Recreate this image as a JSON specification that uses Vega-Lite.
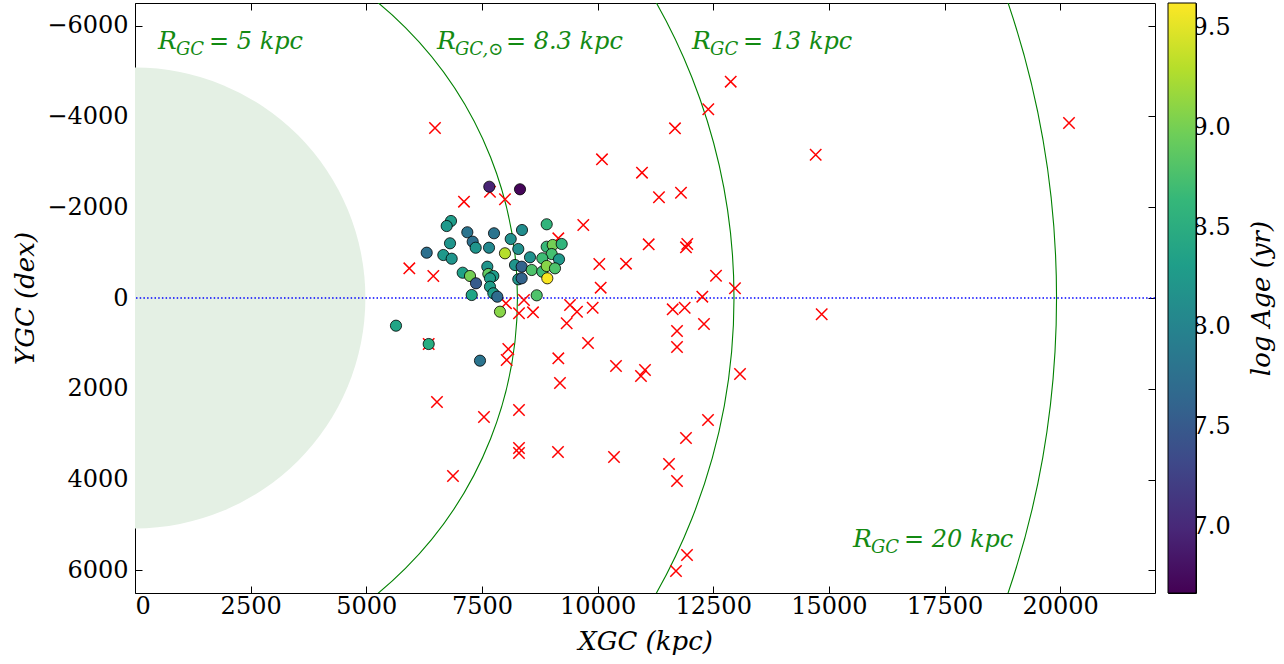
{
  "$schema": "https://vega.github.io/schema/vega-lite/v6.json",
  "padding": {"left": 12, "top": 2, "right": 5, "bottom": 5},
  "background": "white",
  "datasets": {
    "clusters": [
      {"x": 7659, "y": -2452, "age": 6.95}, {"x": 8323, "y": -2395, "age": 6.7},
      {"x": 6831, "y": -1697, "age": 8.3}, {"x": 6738, "y": -1586, "age": 8.25},
      {"x": 8900, "y": -1624, "age": 8.6}, {"x": 7184, "y": -1448, "age": 7.8},
      {"x": 7761, "y": -1426, "age": 7.8}, {"x": 8366, "y": -1498, "age": 8.1},
      {"x": 7300, "y": -1241, "age": 7.75}, {"x": 6810, "y": -1205, "age": 8.2},
      {"x": 8122, "y": -1300, "age": 8.15}, {"x": 7365, "y": -1108, "age": 8.2},
      {"x": 7653, "y": -1108, "age": 8.05}, {"x": 6306, "y": -998, "age": 7.75},
      {"x": 6665, "y": -947, "age": 8.25}, {"x": 6846, "y": -866, "age": 8.2},
      {"x": 7998, "y": -985, "age": 9.3}, {"x": 8286, "y": -1080, "age": 8.15},
      {"x": 8539, "y": -897, "age": 8.15}, {"x": 8900, "y": -1130, "age": 8.65},
      {"x": 9030, "y": -1168, "age": 9.0}, {"x": 9224, "y": -1190, "age": 8.6},
      {"x": 9008, "y": -969, "age": 8.75}, {"x": 8805, "y": -875, "age": 8.7},
      {"x": 9166, "y": -853, "age": 8.25}, {"x": 8215, "y": -727, "age": 8.2},
      {"x": 8359, "y": -690, "age": 7.6}, {"x": 8576, "y": -617, "age": 8.8},
      {"x": 8805, "y": -580, "age": 8.7}, {"x": 8900, "y": -705, "age": 9.1},
      {"x": 9079, "y": -654, "age": 8.8}, {"x": 8913, "y": -434, "age": 9.6},
      {"x": 7084, "y": -557, "age": 8.35}, {"x": 7242, "y": -485, "age": 9.0},
      {"x": 7372, "y": -324, "age": 7.5}, {"x": 7616, "y": -690, "age": 8.2},
      {"x": 7638, "y": -529, "age": 8.9}, {"x": 7746, "y": -485, "age": 8.3},
      {"x": 7674, "y": -434, "age": 8.3}, {"x": 8286, "y": -412, "age": 8.2},
      {"x": 8359, "y": -434, "age": 7.6}, {"x": 7674, "y": -249, "age": 8.3},
      {"x": 7279, "y": -66, "age": 8.4}, {"x": 7746, "y": -104, "age": 8.3},
      {"x": 7832, "y": -29, "age": 7.7}, {"x": 8684, "y": -59, "age": 8.8},
      {"x": 7890, "y": 302, "age": 9.1}, {"x": 5642, "y": 610, "age": 8.4},
      {"x": 6349, "y": 1014, "age": 8.5}, {"x": 7458, "y": 1381, "age": 7.8}
    ],
    "crosses": [
      {"x": 6485, "y": -3746}, {"x": 7112, "y": -2122}, {"x": 7674, "y": -2342}, {"x": 7998, "y": -2175},
      {"x": 9691, "y": -1608}, {"x": 10095, "y": -3056}, {"x": 10960, "y": -2761}, {"x": 11327, "y": -2219},
      {"x": 11803, "y": -2320}, {"x": 11673, "y": -3739}, {"x": 12393, "y": -4158}, {"x": 12878, "y": -4766},
      {"x": 14715, "y": -3157}, {"x": 20191, "y": -3856}, {"x": 9151, "y": -1315}, {"x": 11105, "y": -1183},
      {"x": 11939, "y": -1190}, {"x": 11911, "y": -1117}, {"x": 10037, "y": -749}, {"x": 10614, "y": -756},
      {"x": 10067, "y": -227}, {"x": 12560, "y": -491}, {"x": 12970, "y": -214}, {"x": 12264, "y": -29},
      {"x": 5930, "y": -654}, {"x": 6449, "y": -485}, {"x": 8020, "y": 117}, {"x": 8301, "y": 337},
      {"x": 8409, "y": 44}, {"x": 8604, "y": 315}, {"x": 9404, "y": 154}, {"x": 9332, "y": 557},
      {"x": 9555, "y": 302}, {"x": 9894, "y": 214}, {"x": 11624, "y": 249}, {"x": 11883, "y": 214},
      {"x": 14845, "y": 359}, {"x": 8070, "y": 1124}, {"x": 8035, "y": 1366}, {"x": 9151, "y": 1329},
      {"x": 6349, "y": 1014}, {"x": 9793, "y": 992}, {"x": 9187, "y": 1873}, {"x": 10398, "y": 1498},
      {"x": 10938, "y": 1719}, {"x": 11025, "y": 1586}, {"x": 6528, "y": 2292}, {"x": 7544, "y": 2622},
      {"x": 8301, "y": 2468}, {"x": 8301, "y": 3305}, {"x": 8301, "y": 3415}, {"x": 9144, "y": 3393},
      {"x": 6874, "y": 3922}, {"x": 10355, "y": 3503}, {"x": 11544, "y": 3658}, {"x": 11695, "y": 6015},
      {"x": 11933, "y": 5663}, {"x": 11717, "y": 4032}, {"x": 11911, "y": 3085}, {"x": 12387, "y": 2688},
      {"x": 13079, "y": 1675}, {"x": 12300, "y": 573}, {"x": 11717, "y": 727}, {"x": 11717, "y": 1080}
    ],
    "rings": [
      {"r": 8300}, {"r": 13000}, {"r": 20000}
    ],
    "labels": [
      {"x": 497, "y": -5487, "sub": "GC", "rest": "= 5 kpc", "kind": "plain"},
      {"x": 6528, "y": -5487, "sub": "GC,⊙", "rest": "= 8.3 kpc", "kind": "sun"},
      {"x": 12041, "y": -5487, "sub": "GC", "rest": "= 13 kpc", "kind": "plain"},
      {"x": 15521, "y": 5487, "sub": "GC", "rest": "= 20 kpc", "kind": "plain"}
    ],
    "cbar": [{"lo": 6.665, "hi": 9.625}]
  },
  "hconcat": [
    {
      "width": 1020,
      "height": 590,
      "resolve": {"axis": {"x": "independent", "y": "independent"}},
      "layer": [
        {
          "data": {"values": [{"r": 5000}]},
          "mark": {"type": "arc", "theta": 0, "theta2": 6.2832, "fill": "#e4f0e4", "clip": true},
          "encoding": {
            "x": {"datum": 0, "type": "quantitative", "scale": {"domain": [0, 22050], "nice": false, "zero": false},
              "axis": {"orient": "bottom", "values": [0, 2500, 5000, 7500, 10000, 12500, 15000, 17500, 20000], "format": "d", "title": "XGC (kpc)", "labelPadding": 8, "titlePadding": 10}},
            "y": {"datum": 0, "type": "quantitative", "scale": {"domain": [-6500, 6500], "reverse": true, "nice": false, "zero": false},
              "axis": {"orient": "left", "values": [-6000, -4000, -2000, 0, 2000, 4000, 6000], "format": "d", "title": "YGC (dex)", "labelPadding": 14, "titlePadding": 8}},
            "radius": {"field": "r", "type": "quantitative", "stack": null, "scale": {"type": "linear", "domain": [0, 22050], "range": [0, 1016], "zero": true}}
          }
        },
        {
          "data": {"name": "rings"},
          "mark": {"type": "arc", "theta": 0, "theta2": 6.2832, "filled": false, "fill": null, "stroke": "#008000", "strokeWidth": 1.1, "clip": true},
          "encoding": {
            "x": {"datum": 0, "type": "quantitative",
              "axis": {"orient": "top", "values": [0, 2500, 5000, 7500, 10000, 12500, 15000, 17500, 20000], "labels": false, "title": null}},
            "y": {"datum": 0, "type": "quantitative",
              "axis": {"orient": "right", "values": [-6000, -4000, -2000, 0, 2000, 4000, 6000], "labels": false, "title": null}},
            "radius": {"field": "r", "type": "quantitative", "stack": null}
          }
        },
        {
          "data": {"values": [{}]},
          "mark": {"type": "rule", "color": "blue", "strokeDash": [1.5, 2.2], "strokeWidth": 1.3},
          "encoding": {"y": {"datum": 0, "type": "quantitative", "axis": null}}
        },
        {
          "data": {"name": "crosses"},
          "mark": {"type": "point", "shape": "M-1,-1L1,1M-1,1L1,-1", "filled": false, "stroke": "red", "strokeWidth": 1.5, "size": 130, "opacity": 1, "clip": true},
          "encoding": {
            "x": {"field": "x", "type": "quantitative", "axis": null},
            "y": {"field": "y", "type": "quantitative", "axis": null}
          }
        },
        {
          "data": {"name": "clusters"},
          "mark": {"type": "point", "shape": "circle", "filled": true, "stroke": "black", "strokeWidth": 0.8, "size": 125, "opacity": 1},
          "encoding": {
            "x": {"field": "x", "type": "quantitative", "axis": null},
            "y": {"field": "y", "type": "quantitative", "axis": null},
            "fill": {"field": "age", "type": "quantitative", "scale": {"scheme": "viridis", "domain": [6.665, 9.625]}, "legend": null}
          }
        },
        {
          "data": {"name": "labels"},
          "mark": {"type": "text", "align": "left", "baseline": "alphabetic", "font": "DejaVu Serif", "fontStyle": "italic", "fontSize": 25, "color": "#138a13"},
          "encoding": {
            "x": {"field": "x", "type": "quantitative", "axis": null},
            "y": {"field": "y", "type": "quantitative", "axis": null},
            "text": {"value": "R"}
          }
        },
        {
          "data": {"name": "labels"},
          "mark": {"type": "text", "align": "left", "baseline": "alphabetic", "font": "DejaVu Serif", "fontStyle": "italic", "fontSize": 18, "color": "#138a13", "dx": 18, "dy": 6},
          "encoding": {
            "x": {"field": "x", "type": "quantitative", "axis": null},
            "y": {"field": "y", "type": "quantitative", "axis": null},
            "text": {"field": "sub"}
          }
        },
        {
          "data": {"name": "labels"},
          "transform": [{"filter": "datum.kind === 'plain'"}],
          "mark": {"type": "text", "align": "left", "baseline": "alphabetic", "font": "DejaVu Serif", "fontStyle": "italic", "fontSize": 24, "color": "#138a13", "dx": 51},
          "encoding": {
            "x": {"field": "x", "type": "quantitative", "axis": null},
            "y": {"field": "y", "type": "quantitative", "axis": null},
            "text": {"field": "rest"}
          }
        },
        {
          "data": {"name": "labels"},
          "transform": [{"filter": "datum.kind === 'sun'"}],
          "mark": {"type": "text", "align": "left", "baseline": "alphabetic", "font": "DejaVu Serif", "fontStyle": "italic", "fontSize": 24, "color": "#138a13", "dx": 69},
          "encoding": {
            "x": {"field": "x", "type": "quantitative", "axis": null},
            "y": {"field": "y", "type": "quantitative", "axis": null},
            "text": {"field": "rest"}
          }
        }
      ]
    },
    {
      "width": 28,
      "height": 590,
      "data": {"name": "cbar"},
      "mark": {"type": "rect", "stroke": "black", "strokeWidth": 1,
        "color": {"gradient": "linear", "x1": 0, "y1": 1, "x2": 0, "y2": 0,
          "stops": [
            {"offset": 0, "color": "#440154"}, {"offset": 0.1111, "color": "#482878"},
            {"offset": 0.2222, "color": "#3e4989"}, {"offset": 0.3333, "color": "#31688e"},
            {"offset": 0.4444, "color": "#26828e"}, {"offset": 0.5556, "color": "#1f9e89"},
            {"offset": 0.6667, "color": "#35b779"}, {"offset": 0.7778, "color": "#6ece58"},
            {"offset": 0.8889, "color": "#b5de2b"}, {"offset": 1, "color": "#fde725"}
          ]}},
      "encoding": {
        "x": {"datum": 0, "type": "quantitative", "scale": {"domain": [0, 1]}, "axis": null},
        "x2": {"datum": 1},
        "y": {"field": "lo", "type": "quantitative", "scale": {"domain": [6.665, 9.625], "nice": false, "zero": false},
          "axis": {"orient": "right", "values": [7.0, 7.5, 8.0, 8.5, 9.0, 9.5], "format": ".1f", "title": "log Age (yr)", "titleAngle": 270, "titleBaseline": "top", "labelPadding": 3, "titlePadding": 18}},
        "y2": {"field": "hi"}
      }
    }
  ],
  "spacing": 10,
  "config": {
    "view": {"stroke": "black", "strokeWidth": 1},
    "axis": {
      "domain": false, "grid": false, "ticks": true, "tickSize": -7, "tickColor": "black", "tickWidth": 1,
      "labelFont": "DejaVu Serif", "labelFontSize": 24, "labelColor": "black",
      "titleFont": "DejaVu Serif", "titleFontSize": 26, "titleFontStyle": "italic", "titleFontWeight": "normal", "titleColor": "black"
    }
  }
}
